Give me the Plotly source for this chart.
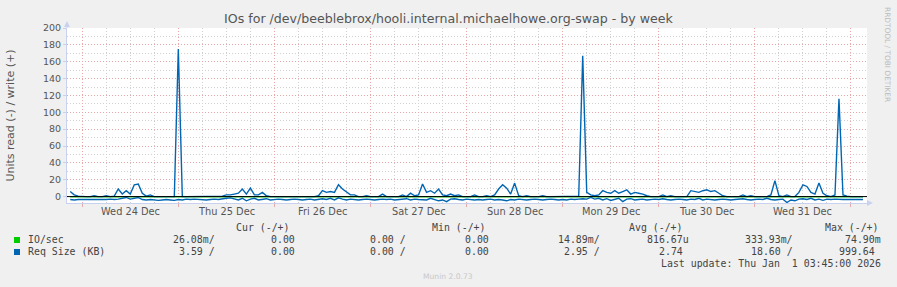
import pandas as pd
import plotly.graph_objects as go

title = "IOs for /dev/beeblebrox/hooli.internal.michaelhowe.org-swap - by week"
y_title = "Units read (-) / write (+)"

# Req Size (KB), hourly samples starting at sample_start
sample_start = "2025-12-23 21:00"
req_write = [
    6, 2, 0.5, 0, 0, 0, 1, 0, 0, 1,
    0, 0.5, 9, 3, 7, 3, 14, 15, 4, 0.5,
    2, 0, 0, 0, 0.5, 0, 0, 175, 0, 0,
    0, 0.5, 0, 0, 0, 0.5, 0, 0, 0.5, 2,
    2, 3, 4, 9, 3, 10, 2, 2, 5, 1,
    0, 0, 0, 0.5, 0, 0, 0, 0.5, 0, 0,
    0, 0, 1, 7, 5, 6, 5, 14, 9, 6,
    2, 2, 0, 0, 1, 0, 0, 0, 3, 0,
    0, 0, 0, 2, 0, 4, 1, 2, 15, 5,
    7, 4, 9, 2, 1, 3, 1, 2, 0, 0,
    0, 2, 0, 0, 1, 0, 2, 9, 14, 10,
    3, 16, 1, 0, 1, 0, 0, 0, 1, 0,
    0, 0, 0, 0.5, 0, 0, 0, 0.5, 167, 5,
    2, 1, 2, 7, 5, 4, 7, 4, 6, 8,
    3, 5, 4, 3, 1, 0, 0, 0, 2, 0,
    1, 0, 0, 0, 0, 7, 6, 5, 7, 8,
    6, 7, 4, 1, 0, 0, 0, 0, 2, 0,
    1, 0, 0, 0, 0, 2, 19, 1, 0, 2,
    0, 0, 5, 14, 12, 5, 3, 16, 4, 1,
    0, 2, 116, 2, 0.5, 0, 0, 0, 0,
]
req_read = [
    3.5, 4, 3.5, 3.5, 4, 4, 3.5, 3.5, 4, 3.5,
    3, 3.5, 3, 2, 1, 3, 2, 1, 3.5, 4,
    3.5, 4, 4.5, 4, 3.5, 4, 4.5, 3.5, 4, 3,
    3.5, 3, 3.5, 3.5, 4, 3.5, 3, 3.5, 2.5, 2,
    1.5, 3, 4, 2, 5, 3, 2, 4, 3, 2.5,
    4, 3.5, 3, 3.5, 4, 3.5, 3, 3.5, 4, 3.5,
    3, 4, 3, 2.5, 3.5, 2, 4, 1.5, 3, 4,
    3, 3.5, 4, 3.5, 3, 3.5, 4, 3.5, 3, 3.5,
    3, 4, 3.5, 3, 2.5, 4, 3, 3.5, 3.5, 4,
    2, 3.5, 5, 4, 6, 3, 2.5, 3.5, 4, 3,
    3.5, 4, 3.5, 4, 3.5, 3, 4, 3.5, 4, 5,
    3.5, 4, 3, 3.5, 4, 3.5, 3, 3.5, 4, 3.5,
    3, 3.5, 4, 3.5, 4, 3, 3.5, 3, 2.5, 3,
    1, 3, 2, 4, 2.5, 4.5, 3, 2, 6, 3,
    2.5, 4, 3.5, 3, 4, 3.5, 3, 3.5, 2.5, 3.5,
    4, 3.5, 3, 3.5, 4, 3, 3.5, 2, 4, 3,
    3.5, 4, 3.5, 3, 3.5, 4, 3.5, 3, 2.5, 3.5,
    4, 3.5, 3, 3.5, 2, 3.5, 4, 3.5, 3, 7,
    4, 5, 3, 2.5, 3.5, 2, 4, 3, 4.5, 3,
    3.5, 3, 3.5, 3.5, 3.5, 3.5, 3.5, 3.5, 3.5,
]

# IO/sec, 6-hourly samples
io_start = "2025-12-23 21:00"
io_write = [0, 0, 0.001, 0, 0.002, 0, 0, 0.001, 0, 0, 0.003, 0, 0, 0.001, 0, 0.002, 0,
            0, 0, 0.004, 0, 0.001, 0, 0.002, 0, 0, 0.001, 0, 0.002, 0, 0, 0.003, 0, 0]
io_read = [0.02, 0.01, 0.015, 0.012, 0.018, 0.01, 0.014, 0.016, 0.011, 0.013, 0.02, 0.012,
           0.015, 0.01, 0.017, 0.014, 0.012, 0.016, 0.013, 0.018, 0.011, 0.015, 0.02, 0.012,
           0.014, 0.016, 0.013, 0.015, 0.012, 0.018, 0.014, 0.016, 0.02, 0.026]

x_range = ["2025-12-23 20:12", "2026-01-01 04:00"]
midnights = ["2025-12-24", "2025-12-25", "2025-12-26", "2025-12-27", "2025-12-28",
             "2025-12-29", "2025-12-30", "2025-12-31", "2026-01-01"]
day_noons = ["2025-12-24 12:00", "2025-12-25 12:00", "2025-12-26 12:00", "2025-12-27 12:00",
             "2025-12-28 12:00", "2025-12-29 12:00", "2025-12-30 12:00", "2025-12-31 12:00"]
day_labels = ["Wed 24 Dec", "Thu 25 Dec", "Fri 26 Dec", "Sat 27 Dec",
              "Sun 28 Dec", "Mon 29 Dec", "Tue 30 Dec", "Wed 31 Dec"]
y_ticks = [0, 20, 40, 60, 80, 100, 120, 140, 160, 180, 200]

legend_names = ["IO/sec", "Req Size (KB)"]
legend_colors = ["#00CC00", "#0066B3"]
col_headers = ["Cur (-/+)", "Min (-/+)", "Avg (-/+)", "Max (-/+)"]
legend_values = [
    ["26.08m/", "0.00", "0.00 /", "0.00", "14.89m/", "816.67u", "333.93m/", "74.90m"],
    ["3.59 /", "0.00", "0.00 /", "0.00", "2.95 /", "2.74", "18.60 /", "999.64"],
]
last_update = "Last update: Thu Jan \u00a01 03:45:00 2026"
footer = "Munin 2.0.73"
side_text = "RRDTOOL / TOBI OETIKER"

# ---- layout geometry (pixels) ----
W, H = 897, 287
L, R, T, B = 67, 867, 28, 203


def px(x):
    return (x - L) / (R - L)


def py(y):
    return (B - y) / (B - T)


t_req = pd.date_range(sample_start, periods=len(req_write), freq="h")
t_io = pd.date_range(io_start, periods=len(io_write), freq="6h")

fig = go.Figure()
line_w = 1.4
fig.add_trace(go.Scatter(x=t_io, y=[-v for v in io_read], mode="lines",
                         line=dict(color=legend_colors[0], width=line_w), hoverinfo="skip"))
fig.add_trace(go.Scatter(x=t_io, y=io_write, mode="lines",
                         line=dict(color=legend_colors[0], width=line_w), hoverinfo="skip"))
fig.add_trace(go.Scatter(x=t_req, y=[-v for v in req_read], mode="lines",
                         line=dict(color=legend_colors[1], width=line_w), hoverinfo="skip"))
fig.add_trace(go.Scatter(x=t_req, y=req_write, mode="lines",
                         line=dict(color=legend_colors[1], width=line_w), hoverinfo="skip"))

major_grid = "#E8A8A8"
minor_grid = "#D0D0D0"
axis_col = "#C8D2F0"
txt = "#555555"
mono = "DejaVu Sans Mono"

fig.update_layout(
    width=W, height=H,
    margin=dict(l=L, r=W - R, t=T, b=H - B, pad=0, autoexpand=False),
    paper_bgcolor="#F0F0F0", plot_bgcolor="#FFFFFF",
    showlegend=False,
    font=dict(family="DejaVu Sans", color=txt, size=9.8),
    title=dict(text=title, x=0.5, xref="container", xanchor="center", y=1 - 19 / H,
               yref="container", yanchor="middle",
               font=dict(family="DejaVu Sans", size=12.6, color=txt)),
    xaxis=dict(type="date", range=x_range, tickvals=midnights, showticklabels=False,
               showgrid=True, gridcolor=major_grid, griddash="1px,2px", gridwidth=1,
               ticks="outside", ticklen=3, tickcolor=major_grid, automargin=False,
               minor=dict(dtick=6 * 3600 * 1000, tick0="2025-12-24", showgrid=True,
                          gridcolor=minor_grid, griddash="1px,2px", ticks=""),
               showline=True, linecolor=axis_col, linewidth=1, zeroline=False, fixedrange=True),
    yaxis=dict(range=[-7.6, 200], tickvals=y_ticks, showgrid=True, gridcolor=major_grid,
               griddash="1px,2px", gridwidth=1, ticks="outside", ticklen=3, tickcolor=axis_col,
               tickfont=dict(size=9.5, color=txt), automargin=False,
               minor=dict(dtick=10, tick0=0, showgrid=True, gridcolor=minor_grid, griddash="1px,2px"),
               showline=True, linecolor=axis_col, linewidth=1, zeroline=False,
               title=dict(text=y_title, font=dict(size=11, color=txt), standoff=26), fixedrange=True),
)

shapes = [
    # zero rule
    dict(type="line", xref="paper", yref="y", x0=0, x1=1, y0=0, y1=0,
         line=dict(color="#000000", width=1), layer="above"),
    # left axis extension + arrow
    dict(type="line", xref="paper", yref="paper", x0=0, x1=0, y0=1, y1=py(24),
         line=dict(color=axis_col, width=1)),
    dict(type="path", xref="paper", yref="paper",
         path=f"M {px(64)} {py(27)} L {px(70)} {py(27)} L {px(67)} {py(21)} Z",
         fillcolor=axis_col, line=dict(width=0)),
    dict(type="line", xref="paper", yref="paper", x0=1, x1=px(870), y0=0, y1=0,
         line=dict(color=axis_col, width=1)),
    dict(type="path", xref="paper", yref="paper",
         path=f"M {px(867)} {py(200)} L {px(867)} {py(206)} L {px(873)} {py(203)} Z",
         fillcolor=axis_col, line=dict(width=0)),
]
# legend colour squares
for i, c in enumerate(legend_colors):
    yc = 240 + 12 * i
    shapes.append(dict(type="rect", xref="paper", yref="paper",
                       x0=px(14), x1=px(20), y0=py(yc - 3), y1=py(yc + 3),
                       fillcolor=c, line=dict(width=0)))
fig.update_layout(shapes=shapes)

ann = []
for xv, lab in zip(day_noons, day_labels):
    ann.append(dict(x=xv, xref="x", y=py(211), yref="paper", text=lab, showarrow=False,
                    xanchor="center", yanchor="middle", font=dict(size=9.8, color=txt)))

legend_font = dict(family=mono, size=9.9, color="#444444")
header_x = [234, 430, 627, 823]
for xh, h in zip(header_x, col_headers):
    ann.append(dict(x=px(xh), xref="paper", y=py(227.5), yref="paper", text=h, showarrow=False,
                    xanchor="left", yanchor="middle", font=legend_font))
value_right = [217, 297, 408, 491, 602, 691, 795, 883]
row_y = [239.7, 251.7]
for r, name in enumerate(legend_names):
    ann.append(dict(x=px(26), xref="paper", y=py(row_y[r]), yref="paper", text=name,
                    showarrow=False, xanchor="left", yanchor="middle", font=legend_font))
    for j, v in enumerate(legend_values[r]):
        xr = value_right[j]
        if j in (5, 7) and not v[-1].isalpha():
            xr -= 6
        ann.append(dict(x=px(xr), xref="paper", y=py(row_y[r]), yref="paper", text=v,
                        showarrow=False, xanchor="right", yanchor="middle", font=legend_font))
ann.append(dict(x=px(883), xref="paper", y=py(263.5), yref="paper", text=last_update,
                showarrow=False, xanchor="right", yanchor="middle", font=legend_font))
ann.append(dict(x=px(448), xref="paper", y=py(276.5), yref="paper", text=footer,
                showarrow=False, xanchor="center", yanchor="middle",
                font=dict(family="DejaVu Sans", size=7.6, color="#C8C8C8")))
ann.append(dict(x=px(888), xref="paper", y=py(54), yref="paper", text=side_text,
                showarrow=False, xanchor="center", yanchor="middle", textangle=90,
                font=dict(family="DejaVu Sans", size=7.4, color="#BBBBBB")))
fig.update_layout(annotations=ann)

fig.write_html("out.html")
